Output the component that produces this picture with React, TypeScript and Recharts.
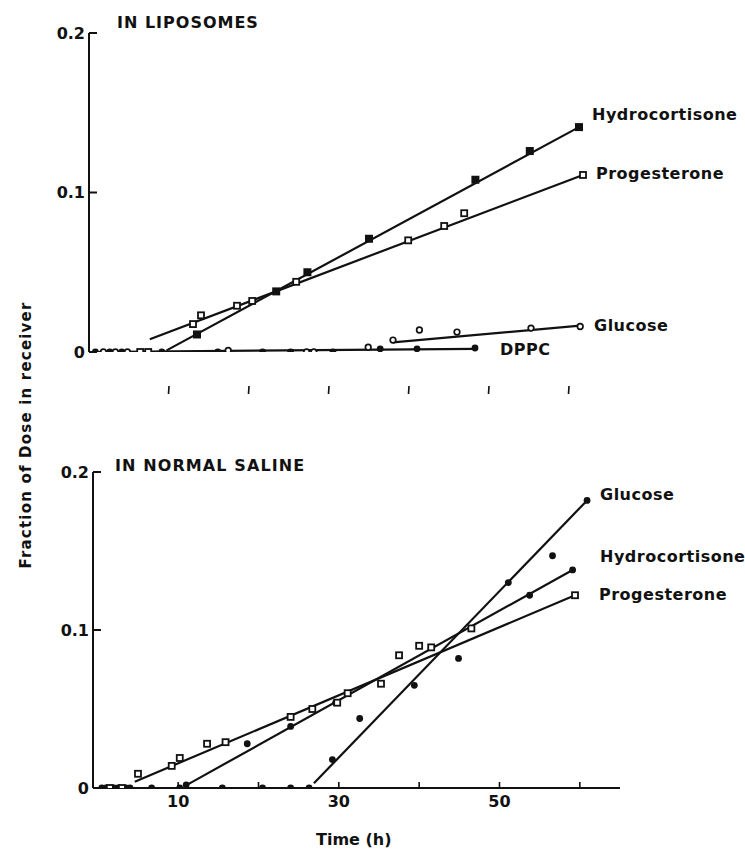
import React from 'react';
import { ComposedChart, Line, Scatter, XAxis, YAxis } from 'recharts';

// ---- top panel: in liposomes ----
const topHydroX = [13.5, 23.4, 27.3, 35, 48.3, 55.1, 61.25];
const topHydroY = [0.011, 0.038, 0.05, 0.071, 0.108, 0.126, 0.141];
const topProgX = [6.4, 7.4, 13, 14, 18.5, 20.4, 25.9, 39.9, 44.4, 46.9, 61.75];
const topProgY = [0, 0, 0.0175, 0.023, 0.029, 0.032, 0.044, 0.07, 0.079, 0.087, 0.111];
const topGlucX = [1.8, 3.3, 4.8, 17.4, 27.2, 28.1, 34.9, 38, 41.3, 46, 55.25, 61.4];
const topGlucY = [0, 0, 0, 0.001, 0, 0, 0.003, 0.0075, 0.0138, 0.0125, 0.015, 0.016];
const topDppcX = [0.8, 2.6, 4.1, 9.1, 16.1, 21.7, 25.2, 30.5, 36.4, 41, 48.25];
const topDppcY = [0, 0, 0, 0, 0, 0, 0, 0, 0.002, 0.002, 0.0025];

// fitted lines [start, end]
const topHydroFitX = [9.7, 61.25];
const topHydroFitY = [0.001, 0.141];
const topProgFitX = [7.6, 61.75];
const topProgFitY = [0.008, 0.111];
const topGlucFitX = [38, 61.4];
const topGlucFitY = [0.006, 0.0165];
const topDppcFitX = [0, 48.25];
const topDppcFitY = [0, 0.002];

// ---- bottom panel: in normal saline ----
const botGlucX = [0.5, 2, 3.5, 6.7, 10.2, 15.5, 20.5, 24, 26.3, 29.2, 32.6, 39.4, 44.9, 51.1, 56.6, 60.9];
const botGlucY = [0, 0, 0, 0, 0, 0, 0, 0, 0, 0.018, 0.044, 0.065, 0.082, 0.13, 0.147, 0.182];
const botHydroX = [1, 2.5, 4, 11, 18.6, 24, 29.6, 53.75, 59.1];
const botHydroY = [0, 0, 0, 0.002, 0.028, 0.039, 0.054, 0.122, 0.138];
const botProgX = [1.5, 3, 5, 9.2, 10.2, 13.6, 15.9, 24, 26.7, 29.8, 31.1, 35.25, 37.5, 40, 41.5, 46.5, 59.4];
const botProgY = [0, 0, 0.009, 0.014, 0.019, 0.028, 0.029, 0.045, 0.05, 0.054, 0.06, 0.066, 0.084, 0.09, 0.089, 0.101, 0.122];

const botGlucFitX = [26.9, 60.9];
const botGlucFitY = [0.003, 0.182];
const botHydroFitX = [11.1, 59.1];
const botHydroFitY = [0.002, 0.138];
const botProgFitX = [4.6, 59.4];
const botProgFitY = [0.004, 0.122];

const xTicks = [10, 20, 30, 40, 50, 60];
const botXTickLabels = ['10', '', '30', '', '50', ''];
const yTicks = [0, 0.1, 0.2];

const zip = (xs: number[], ys: number[]) => xs.map((x, i) => ({ x, y: ys[i] }));

const FONT = '"DejaVu Sans", sans-serif';
const INK = '#111';

const FilledSquare = (p: any) => (
  <rect x={p.cx - 4} y={p.cy - 4} width={8} height={8} fill={INK} />
);
const OpenSquare = (p: any) => (
  <rect x={p.cx - 3} y={p.cy - 3} width={6} height={6} fill="#fff" stroke={INK} strokeWidth={1.8} />
);
const OpenCircle = (p: any) => (
  <circle cx={p.cx} cy={p.cy} r={2.8} fill="#fff" stroke={INK} strokeWidth={1.7} />
);
const FilledCircle = (p: any) => <circle cx={p.cx} cy={p.cy} r={3.4} fill={INK} />;

// y ticks point inward (to the right of the axis)
const YTick = (p: any) => (
  <g>
    <line x1={p.x} x2={p.x + 8} y1={p.y} y2={p.y} stroke={INK} strokeWidth={2} />
    <text x={p.x - 4} y={p.y} dy="0.36em" textAnchor="end" fontSize={16} fontWeight="bold" fontFamily={FONT} fill={INK}>
      {String(p.payload.value)}
    </text>
  </g>
);

// top panel has no x axis line, only loose tick marks below the data
const TopXTick = (p: any) => (
  <line x1={p.x} x2={p.x - 0.5} y1={p.y + 34} y2={p.y + 42} stroke={INK} strokeWidth={1.6} />
);

const BotXTick = (p: any) => (
  <g>
    <line x1={p.x} x2={p.x} y1={p.y} y2={p.y - 6} stroke={INK} strokeWidth={1.6} />
    <text x={p.x} y={p.y + 19} textAnchor="middle" fontSize={16} fontWeight="bold" fontFamily={FONT} fill={INK}>
      {botXTickLabels[xTicks.indexOf(p.payload.value)]}
    </text>
  </g>
);

const fitLine = (xs: number[], ys: number[], key: string) => (
  <Line
    key={key}
    data={zip(xs, ys)}
    dataKey="y"
    stroke={INK}
    strokeWidth={2.2}
    dot={false}
    activeDot={false}
    isAnimationActive={false}
  />
);

const pts = (xs: number[], ys: number[], shape: any, key: string) => (
  <Scatter key={key} data={zip(xs, ys)} dataKey="y" shape={shape} isAnimationActive={false} />
);

const textStyle = (left: number, top: number, spacing = 0.5): React.CSSProperties => ({
  position: 'absolute',
  left,
  top,
  transform: 'translateY(-50%)',
  fontFamily: FONT,
  fontSize: 16,
  fontWeight: 'bold',
  letterSpacing: spacing,
  color: INK,
  whiteSpace: 'nowrap',
  lineHeight: 1,
});

export default function App() {
  return (
    <div style={{ position: 'absolute', left: 0, top: 0, width: 745, height: 852, background: '#fff' }}>
      <div style={{ position: 'absolute', left: 0, top: 0 }}>
        <ComposedChart width={745} height={410} margin={{ top: 33, left: 88, right: 136, bottom: 57 }}>
          <XAxis
            type="number"
            dataKey="x"
            domain={[0, 65]}
            ticks={xTicks}
            interval={0}
            height={1}
            axisLine={false}
            tickLine={false}
            tickSize={0}
            tickMargin={0}
            tick={TopXTick}
            allowDataOverflow
          />
          <YAxis
            type="number"
            dataKey="y"
            domain={[0, 0.2]}
            ticks={yTicks}
            interval={0}
            width={1}
            axisLine={{ stroke: INK, strokeWidth: 2 }}
            tickLine={false}
            tickSize={0}
            tickMargin={0}
            tick={YTick}
            allowDataOverflow
          />
          {fitLine(topDppcFitX, topDppcFitY, 'f-dppc')}
          {fitLine(topGlucFitX, topGlucFitY, 'f-gluc')}
          {fitLine(topProgFitX, topProgFitY, 'f-prog')}
          {fitLine(topHydroFitX, topHydroFitY, 'f-hydro')}
          {pts(topDppcX, topDppcY, FilledCircle, 'p-dppc')}
          {pts(topGlucX, topGlucY, OpenCircle, 'p-gluc')}
          {pts(topProgX, topProgY, OpenSquare, 'p-prog')}
          {pts(topHydroX, topHydroY, FilledSquare, 'p-hydro')}
        </ComposedChart>
      </div>

      <div style={{ position: 'absolute', left: 0, top: 420 }}>
        <ComposedChart width={745} height={432} margin={{ top: 52, left: 92, right: 125, bottom: 63 }}>
          <XAxis
            type="number"
            dataKey="x"
            domain={[-0.6, 65]}
            ticks={xTicks}
            interval={0}
            height={1}
            axisLine={{ stroke: INK, strokeWidth: 2 }}
            tickLine={false}
            tickSize={0}
            tickMargin={0}
            tick={BotXTick}
            allowDataOverflow
          />
          <YAxis
            type="number"
            dataKey="y"
            domain={[0, 0.2]}
            ticks={yTicks}
            interval={0}
            width={1}
            axisLine={{ stroke: INK, strokeWidth: 2 }}
            tickLine={false}
            tickSize={0}
            tickMargin={0}
            tick={YTick}
            allowDataOverflow
          />
          {fitLine(botGlucFitX, botGlucFitY, 'bf-gluc')}
          {fitLine(botProgFitX, botProgFitY, 'bf-prog')}
          {fitLine(botHydroFitX, botHydroFitY, 'bf-hydro')}
          {pts(botGlucX, botGlucY, FilledCircle, 'bp-gluc')}
          {pts(botHydroX, botHydroY, FilledCircle, 'bp-hydro')}
          {pts(botProgX, botProgY, OpenSquare, 'bp-prog')}
        </ComposedChart>
      </div>

      <div style={textStyle(117, 23, 1)}>IN LIPOSOMES</div>
      <div style={textStyle(592, 115)}>Hydrocortisone</div>
      <div style={textStyle(596, 174)}>Progesterone</div>
      <div style={textStyle(594, 326)}>Glucose</div>
      <div style={textStyle(500, 350)}>DPPC</div>

      <div style={textStyle(115, 466, 1.1)}>IN NORMAL SALINE</div>
      <div style={textStyle(600, 495)}>Glucose</div>
      <div style={textStyle(600, 557)}>Hydrocortisone</div>
      <div style={textStyle(599, 595)}>Progesterone</div>

      <div
        style={{
          position: 'absolute',
          left: 26,
          top: 435,
          transform: 'translate(-50%, -50%) rotate(-90deg)',
          fontFamily: FONT,
          fontSize: 15,
          fontWeight: 'bold',
          letterSpacing: 1.2,
          color: INK,
          whiteSpace: 'nowrap',
          lineHeight: 1,
        }}
      >
        Fraction of Dose in receiver
      </div>
      <div style={textStyle(316, 840, 0)}>Time (h)</div>
    </div>
  );
}
